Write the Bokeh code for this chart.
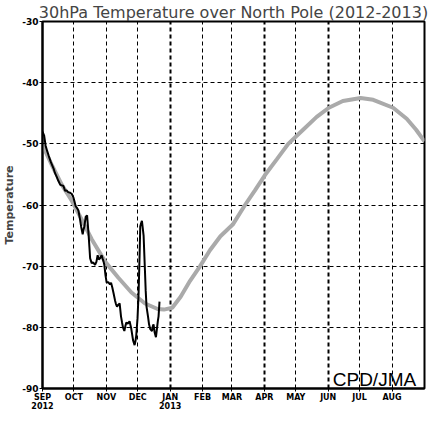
from bokeh.plotting import figure
from bokeh.models import FixedTicker, Label, Grid, Range1d
from bokeh.embed import file_html
from bokeh.resources import INLINE

# x positions: days since 1 Sep 2012
month_days = [0, 30, 61, 91, 122, 153, 181, 212, 242, 273, 303, 334]
month_labels = ["SEP\n2012", "OCT", "NOV", "DEC", "JAN\n2013", "FEB", "MAR",
                "APR", "MAY", "JUN", "JUL", "AUG"]
thick_grid_days = [122, 212, 273]
y_ticks = [-90, -80, -70, -60, -50, -40, -30]
y_labels = ["-90", "-80", "-70", "-60", "-50", "-40", "-30"]

# observed 30hPa temperature (2012)
obs_day = [0, 1.5, 3, 4.5, 6, 8, 10.5, 12, 13.6, 15, 17, 18.5, 20, 21.6, 23,
           24.5, 26.4, 28, 29.6, 30.5, 31.7, 33, 34.3, 35.9, 37, 38.4, 39.2,
           40, 41.3, 42.6, 43.9, 44.8, 45.5, 47, 48.5, 50.2, 51.5, 52.7, 53.8,
           55, 56.5, 57.5, 58.4, 59.1, 60.2, 61.3, 62.8, 64.5, 65.5, 66.7, 68,
           69.3, 70.2, 71.2, 72.5, 73.7, 75, 76, 76.9, 78.2, 79.2, 80.1, 81.5,
           83.2, 84.8, 86.5, 88, 88.8, 89.6, 90.8, 91.8, 92.8, 93.4, 94.2, 95,
           95.6, 96.6, 97.9, 98.6, 99.4, 100.8, 101.8, 103, 104.6, 105.4,
           106.1, 107.1, 108.4, 109.3, 110.2, 110.9, 111.8]
obs_temp = [-48.0, -48.6, -50.3, -51.2, -52.0, -53.0, -54.0, -54.8, -55.4,
            -56.0, -56.7, -56.8, -56.9, -57.7, -57.6, -57.9, -58.0, -58.2,
            -58.8, -59.4, -60.2, -60.5, -60.9, -62.4, -63.6, -64.8, -64.0,
            -63.5, -61.9, -61.7, -64.5, -66.8, -68.7, -69.5, -69.4, -69.8,
            -69.3, -68.2, -68.9, -68.7, -68.2, -68.8, -69.3, -69.8, -71.5,
            -72.7, -72.6, -73.0, -72.7, -73.5, -74.5, -75.6, -76.2, -76.6,
            -76.3, -76.1, -78.2, -79.2, -80.0, -80.6, -79.8, -79.2, -79.4,
            -79.0, -80.2, -82.1, -82.9, -82.3, -81.3, -78.5, -74.5, -68.0,
            -63.5, -63.0, -62.6, -63.5, -65.0, -70.8, -74.0, -76.6, -78.2,
            -79.5, -80.3, -80.6, -79.8, -79.5, -80.8, -81.6, -80.3, -79.0,
            -78.2, -75.8]

# climatology
clim_day = [0, 9, 18.5, 28, 37.5, 47, 60, 72.5, 85, 98, 110, 116, 124, 132,
            141, 150.6, 160, 170, 181.8, 193.5, 203, 212.6, 224, 234.8, 249,
            262, 273.6, 287, 304, 316, 335, 348, 357, 365]
clim_temp = [-50.2, -53.5, -56.7, -59.3, -62.4, -65.6, -69.3, -71.9, -74.3,
             -76.1, -77.0, -77.1, -76.8, -75.0, -72.4, -70.0, -67.4, -65.1,
             -63.2, -60.0, -57.6, -55.1, -52.5, -50.0, -47.7, -45.6, -44.1,
             -43.0, -42.5, -42.8, -44.1, -45.9, -47.7, -49.6]

p = figure(width=428, height=413, output_backend="svg", toolbar_location=None,
           x_range=Range1d(0, 365), y_range=Range1d(-90, -30),
           min_border_left=38, min_border_right=4, min_border_top=0,
           min_border_bottom=0)

p.title.text = "30hPa Temperature over North Pole (2012-2013)"
p.title.text_font = "DejaVu Sans"
p.title.text_font_size = "16px"
p.title.text_font_style = "normal"
p.title.align = "center"
p.title.standoff = 0
p.title.text_line_height = 1.0

p.outline_line_color = "black"
p.outline_line_width = 2
p.background_fill_color = "white"
p.border_fill_color = "white"

# grids
p.xgrid.ticker = FixedTicker(ticks=[d for d in month_days if d not in thick_grid_days])
p.ygrid.ticker = FixedTicker(ticks=y_ticks)
for g in (p.xgrid, p.ygrid):
    g.grid_line_color = "black"
    g.grid_line_dash = "4 3"
    g.grid_line_width = 1
thick = Grid(dimension=0, ticker=FixedTicker(ticks=thick_grid_days),
             grid_line_color="black", grid_line_dash="4 3", grid_line_width=2)
p.add_layout(thick)

# axes
xa = p.xaxis[0]
xa.ticker = FixedTicker(ticks=month_days)
xa.major_label_overrides = {d: l for d, l in zip(month_days, month_labels)}
xa.axis_label_standoff = 0
xa.axis_label_text_font_size = "0px"
ya = p.yaxis[0]
ya.ticker = FixedTicker(ticks=y_ticks)
ya.major_label_overrides = {t: l for t, l in zip(y_ticks, y_labels)}
ya.axis_label = "Temperature"
ya.axis_label_text_font = "DejaVu Sans"
ya.axis_label_text_font_size = "11px"
ya.axis_label_text_font_style = "bold"
ya.axis_label_standoff = 3
for ax in (xa, ya):
    ax.axis_line_color = "black"
    ax.axis_line_width = 2
    ax.major_tick_in = 0
    ax.major_tick_out = 3
    ax.major_tick_line_color = "black"
    ax.minor_tick_line_color = None
    ax.major_label_text_font = "DejaVu Sans"
    ax.major_label_text_font_style = "bold"
    ax.major_label_text_color = "black"
    ax.major_label_standoff = 1
xa.major_label_text_font_size = "8px"
xa.major_label_text_line_height = 1.0
ya.major_label_text_font_size = "9px"

# data
p.line(clim_day, clim_temp, line_color="#aaaaaa", line_width=4)
p.line(obs_day, obs_temp, line_color="black", line_width=2)

p.add_layout(Label(x=357, y=-88.6, text="CPD/JMA", text_align="right",
                   text_baseline="alphabetic", text_font="Liberation Sans",
                   text_font_size="19px", text_color="black"))

open("out.html", "w").write(file_html(p, INLINE))
